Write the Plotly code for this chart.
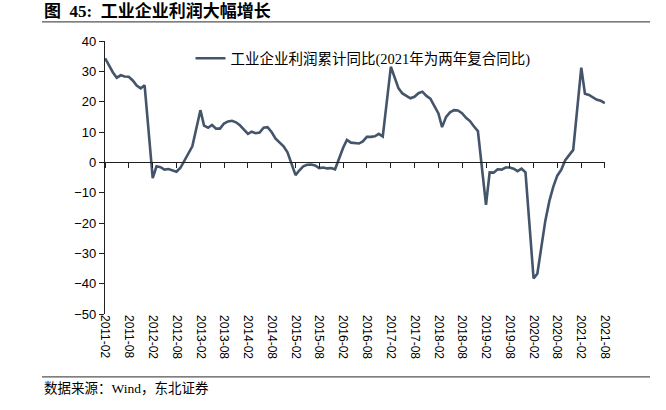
import plotly.graph_objects as go

# Cumulative YoY growth of industrial enterprise profits (%), Feb-Dec each year (no January release)
v2011 = [34.3, 32.1, 29.7, 27.9, 28.7, 28.3, 28.2, 27.0, 25.3, 24.4, 25.4]
v2012 = [-5.2, -1.3, -1.6, -2.4, -2.2, -2.7, -3.1, -1.8, 0.5, 3.0, 5.3]
v2013 = [17.2, 12.1, 11.4, 12.3, 11.1, 11.1, 12.8, 13.5, 13.7, 13.2, 12.2]
v2014 = [9.4, 10.1, 9.6, 9.8, 11.4, 11.6, 10.0, 7.8, 6.7, 5.3, 3.3]
v2015 = [-4.2, -2.7, -1.3, -0.8, -0.7, -1.0, -1.9, -1.7, -2.0, -1.9, -2.3]
v2016 = [4.8, 7.4, 6.5, 6.4, 6.2, 6.9, 8.4, 8.4, 8.6, 9.4, 8.5]
v2017 = [31.5, 28.3, 24.4, 22.7, 22.0, 21.1, 21.6, 22.8, 23.3, 21.9, 21.0]
v2018 = [16.1, 11.6, 15.0, 16.5, 17.2, 17.1, 16.2, 14.7, 13.6, 11.8, 10.3]
v2019 = [-14.0, -3.3, -3.4, -2.3, -2.4, -1.7, -1.7, -2.1, -2.9, -2.1, -3.3]
v2020 = [-38.3, -36.7, -27.4, -19.3, -12.8, -8.1, -4.4, -2.4, 0.7, 2.4, 4.1]
v2021 = [31.2, 22.6, 22.2, 21.5, 20.6, 20.3, 19.5]  # two-year compound growth

years = [2011, 2012, 2013, 2014, 2015, 2016, 2017, 2018, 2019, 2020, 2021]
series = [v2011, v2012, v2013, v2014, v2015, v2016, v2017, v2018, v2019, v2020, v2021]

series_name = "工业企业利润累计同比(2021年为两年复合同比)"
title_text = "图  45:  工业企业利润大幅增长"
source_text = "数据来源：Wind，东北证券"

dates, values = [], []
for yr, vals in zip(years, series):
    for i, v in enumerate(vals):
        dates.append(f"{yr}-{i + 2:02d}-01")
        values.append(v)

LINE = "#44546A"
AX = "#202020"

fig = go.Figure()
fig.add_trace(go.Scatter(
    x=dates, y=values, mode="lines", name=series_name,
    line=dict(color=LINE, width=2.6), xaxis="x", yaxis="y",
))
# helper trace so the zero-line axis (xaxis2) is drawn
fig.add_trace(go.Scatter(
    x=[dates[0]], y=[None], mode="lines", showlegend=False,
    hoverinfo="skip", xaxis="x2", yaxis="y",
))

ymin, ymax = -50, 40
xr = ["2011-01-31", "2021-08-02"]

fig.update_layout(
    width=666, height=410,
    margin=dict(l=105, r=61, t=41, b=96),
    paper_bgcolor="white", plot_bgcolor="white",
    font=dict(family="Liberation Sans, Arial, Noto Sans CJK SC", color="#000000"),
    showlegend=True,
    legend=dict(
        x=0.171, y=0.995, xanchor="left", yanchor="top",
        bgcolor="rgba(0,0,0,0)", borderwidth=0,
        font=dict(family="Liberation Serif, Noto Sans CJK SC", size=14.5, color="#000000"),
    ),
    xaxis=dict(
        type="date", range=xr, tickformat="%Y-%m", dtick="M6", tick0="2011-02-01",
        tickangle=90, showgrid=False, zeroline=False, showline=False, ticks="",
        tickfont=dict(size=12, family="Liberation Sans, Arial"),
        anchor="free", position=0, automargin=False,
    ),
    xaxis2=dict(
        type="date", range=xr, matches="x", overlaying="x", dtick="M6", tick0="2011-02-01",
        showticklabels=False, showgrid=False, zeroline=False,
        showline=True, linecolor=AX, linewidth=1.3,
        ticks="outside", ticklen=5, tickcolor=AX, tickwidth=1.3,
        anchor="free", position=(0 - ymin) / (ymax - ymin), automargin=False,
    ),
    yaxis=dict(
        range=[ymin, ymax], dtick=10, tick0=0, showgrid=False, zeroline=False,
        showline=True, linecolor=AX, linewidth=1.3,
        ticks="outside", ticklen=5, tickcolor=AX, tickwidth=1.3,
        tickfont=dict(size=13, family="Liberation Sans, Arial"), automargin=False,
    ),
)

fig.add_annotation(
    text=f"<b>{title_text}</b>", xref="paper", yref="paper",
    x=-0.126, y=1.11, xanchor="left", yanchor="middle", showarrow=False,
    font=dict(family="Liberation Serif, Noto Sans CJK SC", size=17, color="#000000"),
)
fig.add_annotation(
    text=source_text, xref="paper", yref="paper",
    x=-0.126, y=-0.272, xanchor="left", yanchor="middle", showarrow=False,
    font=dict(family="Liberation Serif, Noto Sans CJK SC", size=13.5, color="#000000"),
)
# rules under title and above source
fig.add_shape(type="line", xref="paper", yref="paper", x0=-0.126, x1=1.09,
              y0=1.07, y1=1.07, line=dict(color="#555555", width=1.3))
fig.add_shape(type="line", xref="paper", yref="paper", x0=-0.126, x1=1.09,
              y0=-0.23, y1=-0.23, line=dict(color="#555555", width=1.3))

fig.write_html("out.html", config={"displayModeBar": False},
               post_script="document.body.style.margin='0';")
